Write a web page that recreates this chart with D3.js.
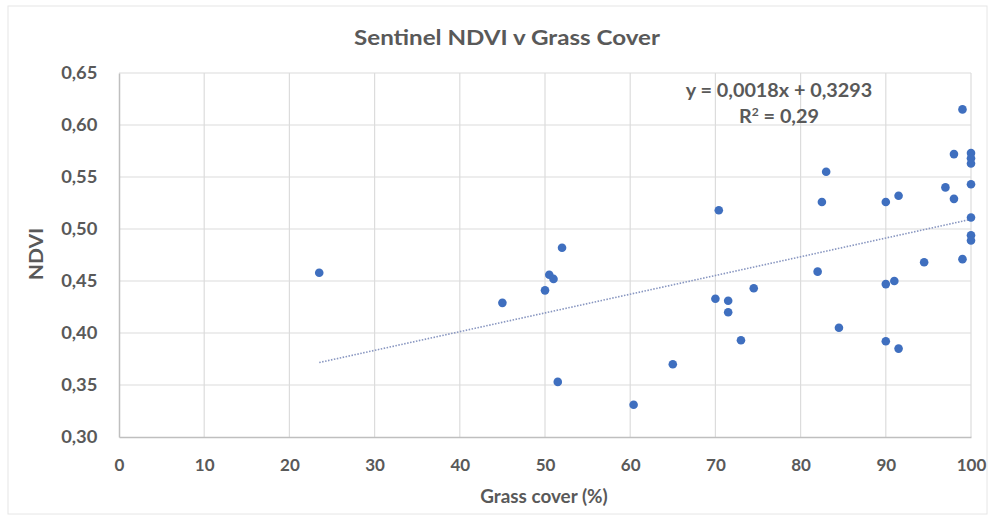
<!DOCTYPE html>
<html>
<head>
<meta charset="utf-8">
<script src="https://cdn.jsdelivr.net/npm/d3@7"></script>
<style>
  body { margin: 0; background: #fff; }
  text { font-family: Lato, "Open Sans", sans-serif; font-weight: bold; fill: #595959; }
</style>
</head>
<body>
<script>
// values
const grassCover = [23.5, 45, 50, 50.5, 51, 52, 51.5, 60.4, 65, 70, 70.4, 71.5, 71.5, 73, 74.5,
    82, 82.5, 83, 84.5, 90, 90, 90, 91, 91.5, 91.5, 94.5, 97, 98, 98, 99, 99,
    100, 100, 100, 100, 100, 100, 100]
const ndvi = [0.458, 0.429, 0.441, 0.456, 0.452, 0.482, 0.353, 0.331, 0.370, 0.433, 0.518, 0.431, 0.420, 0.393, 0.443,
    0.459, 0.526, 0.555, 0.405, 0.526, 0.447, 0.392, 0.450, 0.532, 0.385, 0.468, 0.540, 0.529, 0.572, 0.615, 0.471,
    0.573, 0.568, 0.563, 0.543, 0.511, 0.494, 0.489]
const xTicks = [0, 10, 20, 30, 40, 50, 60, 70, 80, 90, 100]
const yTicks = [0.30, 0.35, 0.40, 0.45, 0.50, 0.55, 0.60, 0.65]
const slope = 0.0018
const intercept = 0.3293
const rSquared = 0.29

const W = 997, H = 522
const svg = d3.select("body").append("svg")
    .attr("width", W)
    .attr("height", H)

// faint chart border
svg.append("rect")
    .attr("x", 8).attr("y", 6)
    .attr("width", W - 18).attr("height", H - 14)
    .attr("fill", "none")
    .attr("stroke", "#e6e6e6")

const x = d3.scaleLinear().domain([0, 100]).range([119, 971])
const y = d3.scaleLinear().domain([0.30, 0.65]).range([437, 73])
const fmt = d3.format(".2f")
const comma = s => s.replace(".", ",")

// gridlines
svg.append("g")
    .selectAll("line")
    .data(xTicks.slice(1))
    .enter()
    .append("line")
    .attr("x1", d => x(d)).attr("x2", d => x(d))
    .attr("y1", y(0.65)).attr("y2", y(0.30))
    .style("stroke", "#dcdcdc")
    .style("stroke-width", 1.2)

svg.append("g")
    .selectAll("line")
    .data(yTicks.slice(1))
    .enter()
    .append("line")
    .attr("x1", x(0)).attr("x2", x(100))
    .attr("y1", d => y(d)).attr("y2", d => y(d))
    .style("stroke", "#dcdcdc")
    .style("stroke-width", 1.2)

// axes
const xAxis = svg.append("g")
    .attr("transform", `translate(0,${y(0.30)})`)
    .call(d3.axisBottom(x).tickValues(xTicks).tickSize(0).tickPadding(22))
xAxis.select(".domain").attr("stroke", "#bfbfbf").attr("stroke-width", 1.5)
xAxis.selectAll("text").attr("font-size", 17).style("font-family", "Lato, sans-serif").attr("fill", "#595959")

const yAxis = svg.append("g")
    .attr("transform", `translate(${x(0)},0)`)
    .call(d3.axisLeft(y).tickValues(yTicks).tickSize(0).tickPadding(20).tickFormat(d => comma(fmt(d))))
yAxis.select(".domain").attr("stroke", "#bfbfbf").attr("stroke-width", 1.5)
yAxis.selectAll("text").attr("font-size", 17).style("font-family", "Lato, sans-serif").attr("fill", "#595959")
    .attr("transform", "scale(1.08,1)")

// linear trendline from the stated fit
const xMin = d3.min(grassCover), xMax = d3.max(grassCover)
svg.append("line")
    .attr("x1", x(xMin)).attr("y1", y(slope * xMin + intercept))
    .attr("x2", x(xMax)).attr("y2", y(slope * xMax + intercept))
    .style("stroke", "#8896c0")
    .style("stroke-width", 1.6)
    .style("stroke-dasharray", "1.5,1.5")

// points
svg.append("g")
    .selectAll("circle")
    .data(grassCover.map((g, i) => ({g: g, v: ndvi[i]})))
    .enter()
    .append("circle")
    .attr("cx", d => x(d.g))
    .attr("cy", d => y(d.v))
    .attr("r", 4.3)
    .attr("fill", "#3f6fbf")

// texts (slightly stretched sideways like the source image)
function label(str, px, py, size, sx, rot) {
    return svg.append("text")
        .text(str)
        .attr("transform", `translate(${px},${py})` + (rot ? ` rotate(${rot})` : "") + ` scale(${sx},1)`)
        .attr("text-anchor", "middle")
        .attr("font-size", size)
}

label("Sentinel NDVI v Grass Cover", 507, 45, 21, 1.15)
label("Grass cover (%)", 544, 503, 18, 1.05)
label("NDVI", 43, 254, 18, 1.17, -90)
label("y = " + comma(slope.toFixed(4)) + "x + " + comma(intercept.toFixed(4)), 779, 97, 18, 1.1)

const r2 = label("", 779, 123, 18, 1.1)
r2.append("tspan").text("R")
r2.append("tspan").text("2").attr("font-size", 11).attr("dy", -7)
r2.append("tspan").text(" = " + comma(rSquared.toFixed(2))).attr("dy", 7)
</script>
</body>
</html>
